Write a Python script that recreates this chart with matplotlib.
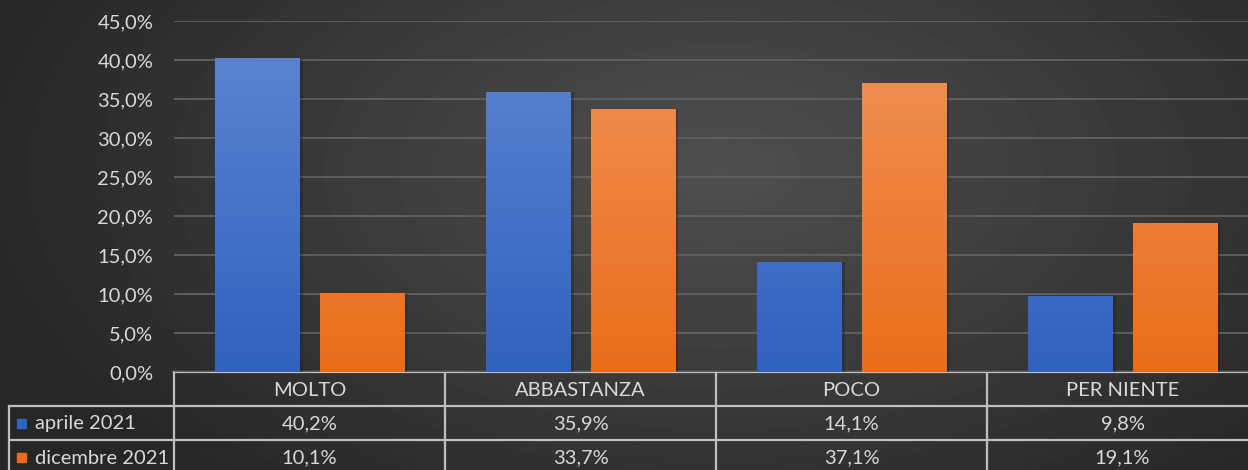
import numpy as np
import matplotlib
matplotlib.use("Agg")
import matplotlib.pyplot as plt
from matplotlib.colors import LinearSegmentedColormap
from matplotlib.ticker import FuncFormatter

CATEGORIES = ["MOLTO", "ABBASTANZA", "POCO", "PER NIENTE"]
SERIES = ["aprile 2021", "dicembre 2021"]
APRILE = [40.2, 35.9, 14.1, 9.8]
DICEMBRE = [10.1, 33.7, 37.1, 19.1]
Y_TICKS = [0, 5, 10, 15, 20, 25, 30, 35, 40, 45]

BLUE_TOP, BLUE_BOT = "#5f86d2", "#2f62bf"
ORANGE_TOP, ORANGE_BOT = "#f1935a", "#e96d1a"
TEXT = "#d9d9d9"
LINE = "#bfbfbf"
FS = 14.5

W, H = 1248, 470
plt.rcParams["font.family"] = ["Lato", "DejaVu Sans"]

fig = plt.figure(figsize=(W / 100, H / 100), dpi=100)

# ── fond : dégradé radial sombre ─────────────────────────────────────────────
bg = fig.add_axes([0, 0, 1, 1])
yy, xx = np.mgrid[0:H, 0:W]
r = np.sqrt(((xx - 720) / 760) ** 2 + ((yy - 170) / 420) ** 2)
shade = np.clip(0.31 - 0.16 * r, 0.15, 0.31)
bg.imshow(shade, cmap="gray", vmin=0, vmax=1, extent=[0, W, H, 0], aspect="auto")
bg.set_xlim(0, W)
bg.set_ylim(H, 0)
bg.axis("off")

# ── graphique ────────────────────────────────────────────────────────────────
x0, x1 = 174, 1258
y_top, y_zero = 21, 372
ax = fig.add_axes([x0 / W, (H - y_zero) / H, (x1 - x0) / W, (y_zero - y_top) / H])
ax.patch.set_alpha(0)
ax.set_xlim(-0.5, len(CATEGORIES) - 0.5)
ax.set_ylim(0, 45)
ax.set_yticks(Y_TICKS)
ax.yaxis.set_major_formatter(FuncFormatter(lambda v, _: f"{v:.1f}%".replace(".", ",")))
ax.tick_params(axis="y", length=0, colors=TEXT, labelsize=FS, pad=15)
ax.set_xticks([])
ax.grid(axis="y", color="#5e5e5e", linewidth=1.4)
ax.set_axisbelow(True)
for s in ax.spines.values():
    s.set_visible(False)

xs = np.arange(len(CATEGORIES))
bw = 0.31
off = 0.192


def gradient_bars(bars, top, bot):
    cmap = LinearSegmentedColormap.from_list("g", [bot, top])
    grad = np.linspace(0, 1, 256).reshape(-1, 1)
    for b in bars:
        bx = b.get_x()
        bw_, bh = b.get_width(), b.get_height()
        # ombre légère
        ax.bar(bx + bw_ / 2 + 0.006, bh, bw_ + 0.012, color="#1e1e1e", alpha=0.35, zorder=2)
        im = ax.imshow(grad, cmap=cmap, origin="lower", aspect="auto",
                       extent=[bx, bx + bw_, 0, 45], zorder=3)
        im.set_clip_path(b)


b1 = ax.bar(xs - off, APRILE, bw, color="none", zorder=3)
b2 = ax.bar(xs + off, DICEMBRE, bw, color="none", zorder=3)
gradient_bars(b1, BLUE_TOP, BLUE_BOT)
gradient_bars(b2, ORANGE_TOP, ORANGE_BOT)
ax.set_xlim(-0.5, len(CATEGORIES) - 0.5)
ax.set_ylim(0, 45)

# ── tableau de données ───────────────────────────────────────────────────────
col_w = (x1 - x0) / len(CATEGORIES)
rows = [372, 406, 440, 474]
lw = 1.6
bg.plot([x0, W], [rows[0], rows[0]], color=LINE, lw=lw, zorder=5)
for yl in rows[1:3]:
    bg.plot([9, W], [yl, yl], color=LINE, lw=lw, zorder=5)
bg.plot([9, 9], [rows[1], H], color=LINE, lw=lw, zorder=5)
for i in range(len(CATEGORIES)):
    xl = x0 + i * col_w
    bg.plot([xl, xl], [rows[0], H], color=LINE, lw=lw, zorder=5)

for i, cat in enumerate(CATEGORIES):
    cx = x0 + (i + 0.5) * col_w
    bg.text(cx, (rows[0] + rows[1]) / 2 + 1, cat, color=TEXT, fontsize=FS,
            ha="center", va="center")
    for j, vals in enumerate([APRILE, DICEMBRE]):
        bg.text(cx, (rows[j + 1] + rows[j + 2]) / 2 + 1,
                f"{vals[i]:.1f}%".replace(".", ","), color=TEXT, fontsize=FS,
                ha="center", va="center")

for j, (name, col) in enumerate(zip(SERIES, [BLUE_BOT, ORANGE_BOT])):
    yc = (rows[j + 1] + rows[j + 2]) / 2
    bg.add_patch(plt.Rectangle((17, yc - 4), 9, 9, color=col, zorder=6))
    bg.text(35, yc + 1, name, color=TEXT, fontsize=FS, ha="left", va="center")

fig.savefig("out.png", dpi=100)
